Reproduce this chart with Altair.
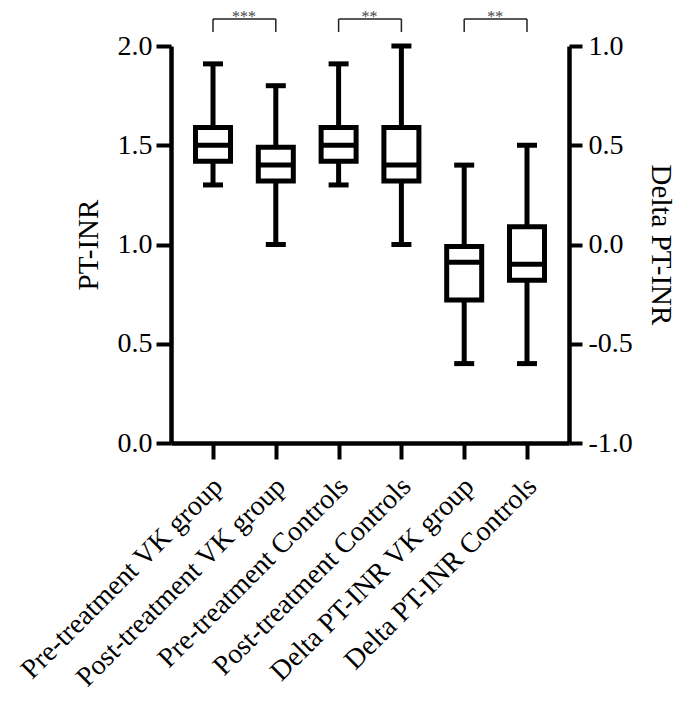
import altair as alt
import pandas as pd

categories = [
    "Pre-treatment VK group",
    "Post-treatment VK group",
    "Pre-treatment Controls",
    "Post-treatment Controls",
    "Delta PT-INR VK group",
    "Delta PT-INR Controls",
]

# PT-INR boxes (left axis)
pt_categories = categories[:4]
pt_low = [1.30, 1.00, 1.30, 1.00]
pt_q1 = [1.42, 1.32, 1.42, 1.32]
pt_median = [1.50, 1.40, 1.50, 1.40]
pt_q3 = [1.59, 1.49, 1.59, 1.59]
pt_high = [1.91, 1.80, 1.91, 2.00]

# Delta PT-INR boxes (right axis)
delta_categories = categories[4:]
delta_low = [-0.60, -0.60]
delta_q1 = [-0.28, -0.18]
delta_median = [-0.09, -0.10]
delta_q3 = [-0.01, 0.09]
delta_high = [0.40, 0.50]

# significance brackets
bracket_start = [categories[0], categories[2], categories[4]]
bracket_end = [categories[1], categories[3], categories[5]]
bracket_label = ["***", "**", "**"]

left_ticks = [0.0, 0.5, 1.0, 1.5, 2.0]
right_ticks = [-1.0, -0.5, 0.0, 0.5, 1.0]

FONT = "Liberation Serif"

pt_df = pd.DataFrame({"cat": pt_categories, "low": pt_low, "q1": pt_q1,
                      "median": pt_median, "q3": pt_q3, "high": pt_high})
delta_df = pd.DataFrame({"cat": delta_categories, "low": delta_low, "q1": delta_q1,
                         "median": delta_median, "q3": delta_q3, "high": delta_high})
br_df = pd.DataFrame({"start": bracket_start, "end": bracket_end, "label": bracket_label})

x_scale = alt.Scale(type="point", domain=categories, padding=0.669)
x_axis = alt.Axis(
    title=None, labelAngle=-45, labelAlign="right", labelBaseline="middle",
    labelFont=FONT, labelFontSize=28, labelColor="black", labelPadding=23,
    labelOffset=5, labelLimit=500, tickSize=16, tickWidth=4, tickColor="black",
    domainWidth=4.5, domainColor="black", grid=False,
)

lbl_expr = "(datum.value < 0 ? '-' : '') + format(abs(datum.value), '.1f')"

yl_scale = alt.Scale(domain=[0, 2], nice=False, zero=False)
yl_axis = alt.Axis(
    orient="left", title="PT-INR", values=left_ticks, labelExpr=lbl_expr,
    labelFont=FONT, labelFontSize=28, labelColor="black", labelPadding=4,
    tickSize=15, tickWidth=4, tickColor="black", domainWidth=4.5, domainColor="black",
    titleFont=FONT, titleFontSize=29, titleFontWeight="normal", titleColor="black",
    titlePadding=14, grid=False,
)
yr_scale = alt.Scale(domain=[-1, 1], nice=False, zero=False)
yr_axis = alt.Axis(
    orient="right", title="Delta PT-INR", values=right_ticks, labelExpr=lbl_expr,
    labelFont=FONT, labelFontSize=28, labelColor="black", labelPadding=6,
    tickSize=13, tickWidth=4, tickColor="black", domainWidth=4.5, domainColor="black",
    titleFont=FONT, titleFontSize=29, titleFontWeight="normal", titleColor="black",
    titlePadding=13, grid=False,
)

X = alt.X("cat:N", scale=x_scale, axis=x_axis)


def box_layers(df, scale, axis):
    base = alt.Chart(df)
    whisk = base.mark_rule(color="black", strokeWidth=5).encode(
        x=X, y=alt.Y("low:Q", scale=scale, axis=axis), y2="high:Q")
    cap_lo = base.mark_tick(orient="horizontal", color="black", size=20, thickness=5, opacity=1).encode(
        x=X, y=alt.Y("low:Q", scale=scale, axis=axis))
    cap_hi = base.mark_tick(orient="horizontal", color="black", size=20, thickness=5, opacity=1).encode(
        x=X, y=alt.Y("high:Q", scale=scale, axis=axis))
    box = base.mark_bar(size=35, fill="white", stroke="black", strokeWidth=5, opacity=1).encode(
        x=X, y=alt.Y("q1:Q", scale=scale, axis=axis), y2="q3:Q")
    med = base.mark_tick(orient="horizontal", color="black", size=35, thickness=5, opacity=1).encode(
        x=X, y=alt.Y("median:Q", scale=scale, axis=axis))
    return [whisk, cap_lo, cap_hi, box, med]


bx = alt.X("start:N", scale=x_scale, axis=x_axis)
bx_end = alt.X("end:N", scale=x_scale, axis=x_axis)
br_base = alt.Chart(br_df)
leg_l = br_base.mark_rule(color="#222222", strokeWidth=1.5).encode(
    x=bx, y=alt.YDatum(2.0705, scale=yl_scale, axis=yl_axis), y2=alt.Y2Datum(2.136))
leg_r = br_base.mark_rule(color="#222222", strokeWidth=1.5).encode(
    x=bx_end, y=alt.YDatum(2.0705, scale=yl_scale, axis=yl_axis), y2=alt.Y2Datum(2.136))
top = br_base.mark_rule(color="#222222", strokeWidth=1.5).encode(
    x=bx, x2="end:N", y=alt.YDatum(2.136, scale=yl_scale, axis=yl_axis))
stars = br_base.mark_text(font=FONT, fontSize=16, color="#444444", dx=31,
                          baseline="alphabetic", align="center").encode(
    x=bx, y=alt.YDatum(2.121, scale=yl_scale, axis=yl_axis), text="label:N")

left = alt.layer(*box_layers(pt_df, yl_scale, yl_axis), leg_l, leg_r, top, stars)
right = alt.layer(*box_layers(delta_df, yr_scale, yr_axis))

chart = (
    alt.layer(left, right)
    .resolve_scale(y="independent")
    .properties(
        width=398, height=397,
        background="white",
        autosize=alt.AutoSizeParams(type="none"),
        padding={"left": 163, "top": 38, "right": 108, "bottom": 254},
    )
    .configure_view(stroke="transparent", strokeWidth=0)
    .configure_axis(grid=False)
)

chart.save("out.html", embed_options={"renderer": "svg", "actions": False})
